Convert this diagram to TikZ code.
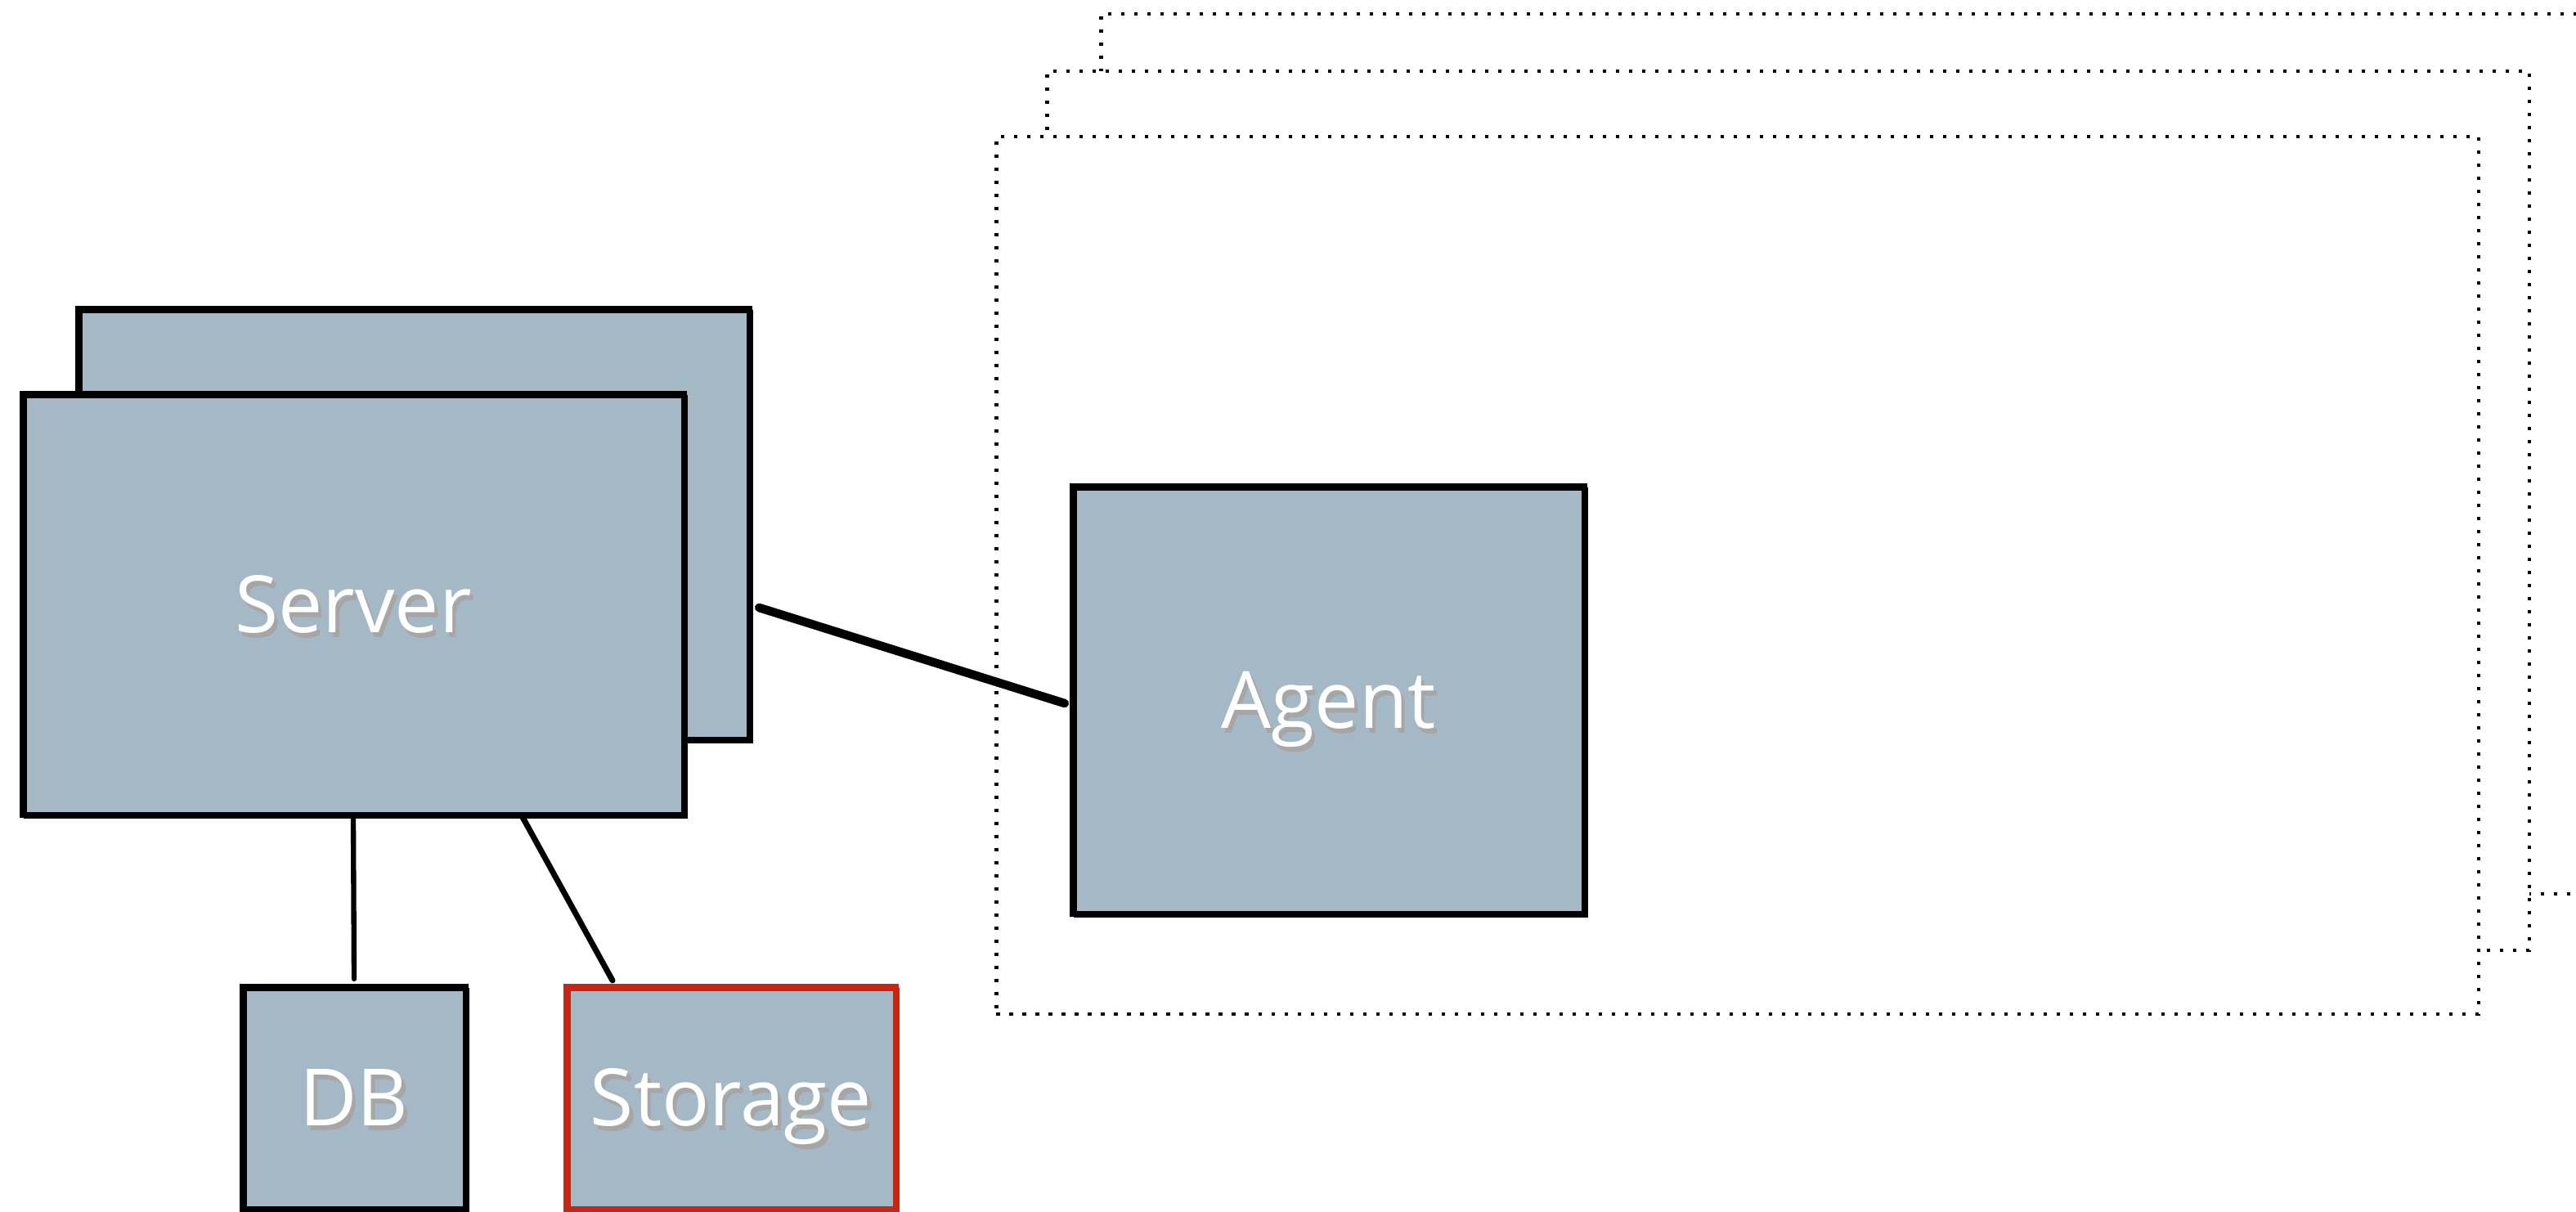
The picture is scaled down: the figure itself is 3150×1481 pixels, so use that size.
\documentclass[tikz,border=0pt]{standalone}
\usepackage{fontspec}
\setmainfont{Open Sans}
\definecolor{boxfill}{RGB}{165,184,197}
\definecolor{boxred}{RGB}{200,38,18}
\newcommand{\shd}[1]{\leavevmode\rlap{\hspace{1.2pt}\raisebox{-1.6pt}{\textcolor{black!35}{#1}}}\textcolor{white}{#1}}
\begin{document}
\begin{tikzpicture}[
				x=0.01cm, y=-0.01cm,
				every node/.style={
						font=\fontsize{27.5}{32}\selectfont,
						inner sep=0pt, outer sep=0pt,
						text height=19.6pt, text depth=0pt,
					},
				sketch/.style={fill=boxfill, draw=black, line width=2pt,
						postaction={draw, line width=1pt, transform canvas={shift={(3,3)}}}},
				host/.style={fill=white, draw=black, line width=1.15pt,
						dash pattern=on 1.15pt off 3.4pt},
				wire/.style={draw=black, line width=2.4pt, line cap=round},
			]
			\useasboundingbox (0,0) rectangle (3150,1481);
			\clip (0,0) rectangle (3150,1481);
			% agent hosts, stacked
			\node[host, minimum width=18.11cm, minimum height=10.76cm] (hostc) at (2252.5,555) {};
			\node[host, minimum width=18.11cm, minimum height=10.75cm] (hostb) at (2186.5,624.5) {};
			\node[host, minimum width=18.11cm, minimum height=10.73cm] (hosta) at (2124.5,703.5) {};
			% server side
			\node[sketch, minimum width=8.20cm, minimum height=5.26cm] (srvback) at (506,641) {};
			\node[sketch, minimum width=8.08cm, minimum height=5.14cm] (server) at (432,739) {\shd{Server}};
			\node[sketch, minimum width=6.25cm, minimum height=5.22cm] (agent) at (1624.5,856) {\shd{Agent}};
			\node[sketch, minimum width=2.72cm, minimum height=2.71cm] (db) at (433,1342.5) {\shd{DB}};
			\node[sketch, draw=boxred, minimum width=4.02cm, minimum height=2.71cm] (store) at (894,1342.5) {\shd{Storage}};
			% connectors
			\draw[wire, line width=3pt] ([shift={(12,102)}]srvback.east) -- ([shift={(-10,4)}]agent.west);
			\draw[wire, line width=1.8pt] ([yshift=-0.03cm]server.south) -- ([yshift=0.1cm]db.north);
			\draw[wire, line width=2pt] ([shift={(207,3)}]server.south) -- ([shift={(-145,-8)}]store.north);
		\end{tikzpicture}
\end{document}
